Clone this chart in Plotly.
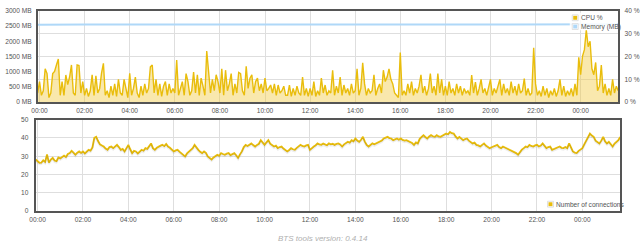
import pandas as pd
import plotly.graph_objects as go

# ---------------- data (5-minute samples, 23:55 day 1 -> 01:40 day 3) ----------------
start_time = "2016-05-01 23:55"
step_minutes = 5

cpu_percent = [
    4,
    9, 3, 5, 14.6, 12.5, 2, 4, 12.5, 13.5, 16.3, 18.9, 3,
    9, 3, 11.9, 7.7, 11, 16.3, 4, 3, 16.3, 16, 4, 9,
    3, 6, 2.5, 5, 12, 3, 11.5, 4, 6, 12.7, 17, 3,
    5, 2, 7, 3, 8, 2.5, 10, 4, 3, 10, 5, 2,
    12.6, 3, 6, 11, 4, 2, 7, 3, 8, 4, 6, 15.5,
    16.3, 4, 10, 3, 8, 2.5, 7, 9, 3, 8, 4, 6,
    4, 18.4, 3, 6, 9, 3, 12.5, 9, 3, 5, 13.2, 4,
    12, 3, 10.5, 7, 3, 22.4, 12, 4, 10, 5, 12, 9,
    4, 14.6, 3, 14, 5, 8, 12.5, 3, 8, 4, 13, 12.5,
    5, 3, 15.7, 6, 10.5, 12, 4, 9, 10.5, 5, 8, 4,
    10.5, 5, 6, 7.5, 4, 8, 3, 7.5, 4, 5, 7, 3,
    3, 7.5, 2.5, 6, 3, 7, 4, 3, 11, 3, 6, 2.5,
    6, 3, 9, 2.5, 5, 3, 10.5, 4, 7.5, 3, 5, 4,
    14, 3, 7, 4, 11, 3, 7.5, 4, 6, 3, 8, 4,
    5, 14.6, 3, 6, 17.2, 8, 3, 6, 4, 5, 12, 3,
    6, 8, 4, 14, 9, 11, 14.6, 10, 8, 4, 3, 2,
    21.7, 3, 5, 3, 8, 4, 9, 3, 6, 4, 7, 12,
    4, 7, 3, 6, 12.5, 4, 7, 3, 12.5, 4, 10, 3,
    7, 3, 9, 4, 6, 3, 8, 4, 7, 3, 6, 4,
    5, 3, 11.9, 4, 8.8, 3, 6, 10, 4, 6, 3, 7,
    10, 3, 6, 4, 7, 10, 3, 8, 4, 6, 3, 9,
    4, 7, 3, 8, 4, 5, 10.3, 3, 6, 3, 4, 23.8,
    8, 3, 5, 2.5, 7, 3, 6, 2, 5, 3, 6, 2.5,
    5, 10, 3, 7, 2.5, 5, 3, 6, 2.5, 8, 3, 19.6,
    12, 20.2, 23, 31.6, 24.3, 26.7, 14.6, 12, 17.4, 5, 7, 16.2,
    4, 8, 3, 6, 3, 10, 4, 7, 5,
]

connections = [
    28.2,
    27.3, 26.4, 26.5, 27.8, 26.9, 31.0, 26.5, 28.2, 29.1, 27.6, 27.3, 29.3,
    28.8, 29.8, 30.3, 29.6, 31.2, 31.7, 32.9, 32.0, 30.8, 31.9, 32.6, 31.8,
    32.6, 31.5, 32.4, 33.5, 33.1, 34.8, 40.0, 40.6, 38.3, 36.5, 35.9, 35.3,
    34.2, 33.5, 35.0, 35.3, 34.4, 35.1, 36.2, 35.0, 33.5, 34.0, 32.6, 34.4,
    36.2, 33.8, 31.7, 32.9, 32.6, 31.5, 32.3, 33.5, 33.0, 34.4, 34.0, 35.3,
    37.0, 34.4, 33.5, 34.6, 35.3, 35.8, 36.2, 35.5, 36.7, 35.3, 34.6, 33.5,
    32.6, 33.2, 33.5, 32.5, 31.7, 31.0, 29.9, 31.5, 32.6, 33.8, 34.4, 36.2,
    34.5, 33.5, 32.4, 31.7, 32.6, 31.8, 29.9, 29.2, 28.2, 29.3, 29.9, 30.8,
    30.2, 31.7, 31.2, 30.8, 31.4, 31.7, 30.6, 31.3, 31.7, 30.5, 29.1, 31.0,
    32.6, 35.0, 36.2, 35.6, 36.2, 37.0, 36.1, 35.3, 36.2, 36.8, 38.8, 37.5,
    36.2, 37.6, 38.8, 36.9, 36.2, 35.3, 35.8, 34.4, 35.0, 35.3, 34.2, 33.5,
    32.6, 33.4, 34.4, 33.8, 33.5, 34.6, 35.3, 36.2, 35.6, 35.3, 35.9, 36.2,
    33.5, 34.6, 35.3, 36.0, 37.0, 36.4, 36.2, 36.9, 36.6, 36.0, 37.0, 36.5,
    36.8, 36.2, 36.7, 37.0, 36.4, 35.3, 36.5, 37.2, 37.9, 37.4, 38.8, 38.2,
    39.7, 38.6, 37.9, 39.0, 40.6, 38.0, 36.2, 35.3, 36.3, 37.0, 36.5, 37.0,
    37.5, 37.9, 38.6, 39.7, 40.1, 40.6, 39.9, 39.7, 38.8, 39.2, 39.7, 39.0,
    39.7, 38.9, 38.5, 38.8, 38.4, 37.9, 37.2, 36.2, 37.5, 37.0, 39.5, 40.6,
    41.5, 40.5, 39.7, 40.8, 41.5, 40.9, 40.6, 41.5, 40.8, 40.6, 41.2, 41.5,
    42.4, 42.0, 43.3, 42.6, 42.4, 40.8, 39.7, 40.6, 39.8, 38.8, 39.4, 39.7,
    38.5, 37.9, 37.0, 37.4, 36.2, 35.9, 35.3, 36.2, 37.0, 35.8, 35.3, 34.4,
    34.9, 35.3, 35.8, 36.2, 35.0, 34.4, 35.3, 34.8, 34.4, 33.9, 33.5, 32.6,
    32.3, 31.7, 30.8, 32.6, 33.6, 34.4, 35.3, 35.0, 36.2, 35.6, 35.3, 35.9,
    36.2, 35.3, 35.8, 37.0, 35.8, 34.4, 35.0, 35.3, 33.5, 34.0, 34.4, 35.0,
    35.3, 34.6, 34.4, 35.0, 34.4, 37.0, 35.2, 32.6, 32.0, 31.7, 32.9, 33.5,
    34.4, 36.5, 38.8, 41.0, 42.4, 41.3, 40.6, 38.5, 37.9, 37.0, 38.5, 40.6,
    38.2, 37.0, 37.9, 36.8, 35.3, 36.9, 37.9, 38.8, 40.5,
]

# memory samples (hourly, MB)
memory_times = ["2016-05-01 23:55"] + [
    str(pd.Timestamp("2016-05-02 00:00") + pd.Timedelta(hours=h)) for h in range(26)
] + ["2016-05-03 01:40"]
memory_mb = [2545, 2546, 2546, 2547, 2547, 2548, 2548, 2548, 2549, 2549, 2549, 2550,
             2550, 2550, 2551, 2551, 2551, 2552, 2552, 2552, 2553, 2553, 2553, 2554,
             2554, 2554, 2555, 2555]

times = pd.date_range(start_time, periods=len(cpu_percent), freq=f"{step_minutes}min")
conn_times = pd.date_range(start_time, periods=len(connections), freq=f"{step_minutes}min")

footer_text = "BTS tools version: 0.4.14"

# ---------------- style ----------------
YELLOW = "#e9bd0c"
FILL = "rgba(240,200,60,0.42)"
BLUE = "#afd8f8"
GRID = "#dedede"
BORDER = "#555555"
TICK_FONT = dict(family="Liberation Sans, Arial, sans-serif", size=6.6, color="#545454")
W, H = 640, 249

def px(x):
    return x / W

def py(y):
    return 1 - y / H

x_range = [times[0], times[-1]]

fig = go.Figure()

fig.add_trace(go.Scatter(
    x=memory_times, y=memory_mb, mode="lines", line=dict(color=BLUE, width=2),
    xaxis="x", yaxis="y2", hoverinfo="skip", showlegend=False,
))
fig.add_trace(go.Scatter(
    x=times, y=cpu_percent, mode="lines", line=dict(color=YELLOW, width=1.4),
    fill="tozeroy", fillcolor=FILL,
    xaxis="x", yaxis="y", hoverinfo="skip", showlegend=False,
))
# faint shadow of connections line (flot-style), same data on a slightly shifted axis
fig.add_trace(go.Scatter(
    x=conn_times, y=connections, mode="lines",
    line=dict(color="rgba(0,0,0,0.07)", width=2),
    xaxis="x2", yaxis="y4", hoverinfo="skip", showlegend=False,
))
fig.add_trace(go.Scatter(
    x=conn_times, y=connections, mode="lines", line=dict(color=YELLOW, width=1.8),
    xaxis="x2", yaxis="y3", hoverinfo="skip", showlegend=False,
))

common_x = dict(
    type="date", range=x_range, tickformat="%H:%M", dtick=7200000,
    tick0="2016-05-02 00:00", showgrid=True, gridcolor=GRID, gridwidth=1,
    showline=True, linecolor=BORDER, linewidth=2, mirror=True, ticks="",
    tickfont=TICK_FONT, zeroline=False, fixedrange=True, ticklabelstandoff=1,
)

top_dom = [py(101), py(7)]
bot_dom = [py(213), py(119)]

fig.update_layout(
    width=W, height=H,
    margin=dict(l=0, r=0, t=0, b=0),
    paper_bgcolor="white", plot_bgcolor="white",
    showlegend=False,
    xaxis=dict(domain=[px(32), px(619)], anchor="y", **common_x),
    yaxis=dict(domain=top_dom, anchor="x", side="right", range=[0, 40], dtick=10,
               ticksuffix=" %", showgrid=True, gridcolor=GRID, zeroline=False,
               showline=True, linecolor=BORDER, linewidth=2, mirror=True,
               ticks="", tickfont=TICK_FONT, fixedrange=True, ticklabelstandoff=3),
    yaxis2=dict(overlaying="y", anchor="x", side="left", range=[0, 3000], dtick=500,
                ticksuffix=" MB", showgrid=False, zeroline=False, showline=False,
                ticks="", tickfont=TICK_FONT, fixedrange=True, ticklabelstandoff=5),
    xaxis2=dict(domain=[px(30), px(621)], anchor="y3", **common_x),
    yaxis3=dict(domain=bot_dom, anchor="x2", side="left", range=[0, 50], dtick=10,
                showgrid=True, gridcolor=GRID, zeroline=False,
                showline=True, linecolor=BORDER, linewidth=2, mirror=True,
                ticks="", tickfont=TICK_FONT, fixedrange=True, ticklabelstandoff=4),
    yaxis4=dict(overlaying="y3", anchor="x2", range=[0.8, 50.8], visible=False,
                fixedrange=True),
)

# ---------------- legends (flot style) ----------------
LEG_FONT = dict(family="Liberation Sans, Arial, sans-serif", size=6.6, color="#545454")
shapes = []
annotations = []

def legend_item(x0, yc, color, label):
    shapes.append(dict(type="rect", xref="paper", yref="paper",
                       x0=px(x0 - 0.5), x1=px(x0 + 5.5), y0=py(yc + 3), y1=py(yc - 3),
                       line=dict(color="#cccccc", width=0.6), fillcolor="white", layer="above"))
    shapes.append(dict(type="rect", xref="paper", yref="paper",
                       x0=px(x0 + 0.5), x1=px(x0 + 4.5), y0=py(yc + 2), y1=py(yc - 2),
                       line=dict(width=0), fillcolor=color, layer="above"))
    annotations.append(dict(text=label, xref="paper", yref="paper", x=px(x0 + 6.5), y=py(yc),
                            xanchor="left", yanchor="middle", showarrow=False, font=LEG_FONT))

# top legend background
shapes.append(dict(type="rect", xref="paper", yref="paper",
                   x0=px(570), x1=px(618), y0=py(27), y1=py(9),
                   line=dict(width=0), fillcolor="rgba(255,255,255,0.85)", layer="above"))
legend_item(573, 14.2, YELLOW, "CPU %")
legend_item(573, 23.2, BLUE, "Memory (MB)")

# bottom legend background
shapes.append(dict(type="rect", xref="paper", yref="paper",
                   x0=px(545), x1=px(620), y0=py(211), y1=py(201),
                   line=dict(width=0), fillcolor="rgba(255,255,255,0.85)", layer="above"))
legend_item(548, 206, YELLOW, "Number of connections")

annotations.append(dict(text=footer_text, xref="paper", yref="paper", x=0.5, y=py(241.5),
                        xanchor="center", yanchor="middle", showarrow=False,
                        font=dict(family="Liberation Sans, Arial, sans-serif", size=8,
                                  color="#b0b0b0", style="italic")))

fig.update_layout(shapes=shapes, annotations=annotations)

fig.write_html("out.html", config={"displayModeBar": False})
